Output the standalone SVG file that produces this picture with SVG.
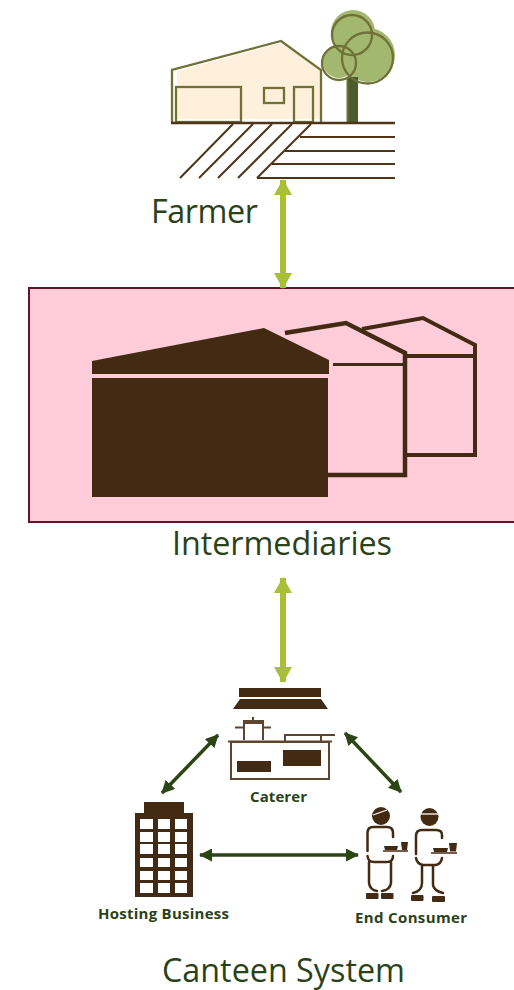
<svg xmlns="http://www.w3.org/2000/svg" width="514" height="990" viewBox="0 0 514 990">
<style>
.lbl{font-family:"Open Sans","Noto Sans",sans-serif;fill:#2b4218}
.big{font-size:32.300px}
.small{font-size:15px;font-weight:700}
.ol{fill:none;stroke:#6f7137;stroke-width:2.300}
.leaf{fill:#a3b86f}
.br{fill:#432a13}
.brl{fill:none;stroke:#432a13}
.soil{stroke:#4f3518;stroke-width:2;fill:none}
.lime{stroke:#a9bf38;stroke-width:6;fill:none;marker-start:url(#limeS);marker-end:url(#limeE)}
.dark{stroke:#2b4515;stroke-width:3.500;fill:none;marker-start:url(#darkS);marker-end:url(#darkE)}
.win{fill:#fff}
.kit{fill:none;stroke:#5d4630;stroke-width:2}
.person{fill:none;stroke:#432a13;stroke-width:2.500;stroke-linecap:round}
</style>
<defs>
<marker id="limeE" markerUnits="userSpaceOnUse" markerWidth="16" markerHeight="18" refX="15" refY="9" orient="auto"><path d="M0 0L16 9L0 18z" fill="#a9bf38"/></marker>
<marker id="limeS" markerUnits="userSpaceOnUse" markerWidth="16" markerHeight="18" refX="1" refY="9" orient="auto"><path d="M16 0L0 9L16 18z" fill="#a9bf38"/></marker>
<marker id="darkE" markerUnits="userSpaceOnUse" markerWidth="13" markerHeight="13" refX="12" refY="6.500" orient="auto"><path d="M0 0L13 6.500L0 13z" fill="#2b4515"/></marker>
<marker id="darkS" markerUnits="userSpaceOnUse" markerWidth="13" markerHeight="13" refX="1" refY="6.500" orient="auto"><path d="M13 0L0 6.500L13 13z" fill="#2b4515"/></marker>
</defs>

<g id="farmer">
<path d="M177 71L281 43L320 70V119H177z" fill="#fff0dc"/>
<path class="ol" d="M172 122V70L281 41L321 70V122"/>
<rect class="ol" x="176" y="87" width="65" height="35"/>
<rect class="ol" x="264" y="88" width="20" height="15"/>
<rect class="ol" x="294" y="87" width="19" height="35"/>
<circle class="leaf" cx="353" cy="32" r="22"/>
<circle class="leaf" cx="368" cy="55" r="27"/>
<circle class="leaf" cx="339" cy="62" r="16"/>
<rect x="347" y="77" width="11" height="45" fill="#4c5c2b"/>
<rect x="346.500" y="78" width="2" height="44" fill="#6f7137"/>
<circle class="ol" cx="352" cy="35" r="20"/>
<circle class="ol" cx="367.500" cy="58" r="25.500"/>
<circle class="ol" cx="339" cy="63" r="17"/>
<path d="M171 123H395" stroke="#4f3518" stroke-width="2.500" fill="none"/>
<path class="soil" d="M300 137H395M285 151H395M272 164H395M257 178H395M233 124L180 178M253 124L199 178M272 124L218 178M292 124L238 178M311 124L257 178"/>
<text class="lbl big" x="151" y="223" textLength="107">Farmer</text>
</g>

<g id="intermediaries">
<rect x="29" y="288" width="490" height="234" fill="#ffccd9" stroke="#6b0f2b" stroke-width="2"/>
<path class="br" d="M92 361L264 328L329 360V374H92zM92 378H328V497H92z"/>
<path class="brl" stroke-width="4.500" d="M285 333L346 323L405 353V475H328"/>
<path class="brl" stroke-width="3" d="M333 364.500H404"/>
<path class="brl" stroke-width="4" d="M362 329L423 318L475 345V455H406"/>
<path class="brl" stroke-width="4" d="M406 356H475"/>
<text class="lbl big" x="172" y="555" textLength="220">Intermediaries</text>
</g>

<g id="caterer">
<rect class="br" x="239" y="688" width="82" height="9"/>
<path class="br" d="M233 709L240 699H321L328 709z"/>
<rect class="kit" x="231" y="742" width="98" height="37"/>
<path class="kit" d="M228 741.500H332M244 740V723H263V740M243 721H264M235 727.500H244M263 727.500H271M253 722V717M285 741V735H335M321 741V735"/>
<rect class="br" x="237" y="761" width="34" height="11"/>
<rect class="br" x="283" y="750" width="38" height="16"/>
<text class="lbl small" x="250" y="802" textLength="57">Caterer</text>
</g>

<g id="hosting">
<rect class="br" x="144" y="802" width="40" height="12"/>
<rect class="br" x="135" y="813" width="58" height="84"/>
<path class="win" d="M140 819h13v10h-13zM158 819h12v10h-12zM175 819h12v10h-12zM140 832h13v10h-13zM158 832h12v10h-12zM175 832h12v10h-12zM140 844h13v10h-13zM158 844h12v10h-12zM175 844h12v10h-12zM140 858h13v9h-13zM158 858h12v9h-12zM175 858h12v9h-12zM140 871h13v9h-13zM158 871h12v9h-12zM175 871h12v9h-12zM140 883h13v10h-13zM158 883h12v10h-12zM175 883h12v10h-12z"/>
<text class="lbl small" x="98" y="919" textLength="131">Hosting Business</text>
</g>

<g id="consumer">
<circle class="br" cx="381" cy="816" r="9"/>
<path d="M373 815L387 810" stroke="#fff" stroke-width="1.300" fill="none"/>
<path class="person" d="M367.500 851V833Q367.500 827 373 827H387Q393 827 393 833V837M367.500 856Q368 862 374 862H387Q393 862 393 856M369 862V883Q370 890 377 891M391 862V883Q390 890 382 891"/>
<rect class="br" x="366" y="893" width="12.500" height="6" rx="1"/>
<rect class="br" x="381" y="893" width="12.500" height="6" rx="1"/>
<path class="br" d="M384 846H398L397 850H385zM401 842H408L407 850H402zM383 850.300H408V851.800H383z"/>
<circle class="br" cx="429.500" cy="817" r="9"/>
<path d="M421 814H438" stroke="#fff" stroke-width="1.300" fill="none"/>
<path class="person" d="M416 854V836Q416 830 422 830H436Q442 830 442 835V838M416 858Q417 864 423 865H436Q441 864 442 858M422 865V883Q422 891 413 893M433 865V885Q434 891 443 893"/>
<rect class="br" x="411" y="895" width="12.500" height="6" rx="1"/>
<rect class="br" x="432" y="896" width="13" height="6" rx="1"/>
<path class="br" d="M433 848H448L447 852H434zM449 843H457L456 851.500H450zM431 852.300H457V853.800H431z"/>
<text class="lbl small" x="355" y="923" textLength="112">End Consumer</text>
</g>

<g id="connectors">
<path class="lime" d="M283 180V288"/>
<path class="lime" d="M283 578V682"/>
<path class="dark" d="M218 735L162 793"/>
<path class="dark" d="M345 733L401 792"/>
<path class="dark" d="M200 855H358"/>
</g>

<text class="lbl big" x="162" y="982" textLength="243">Canteen System</text>
</svg>
